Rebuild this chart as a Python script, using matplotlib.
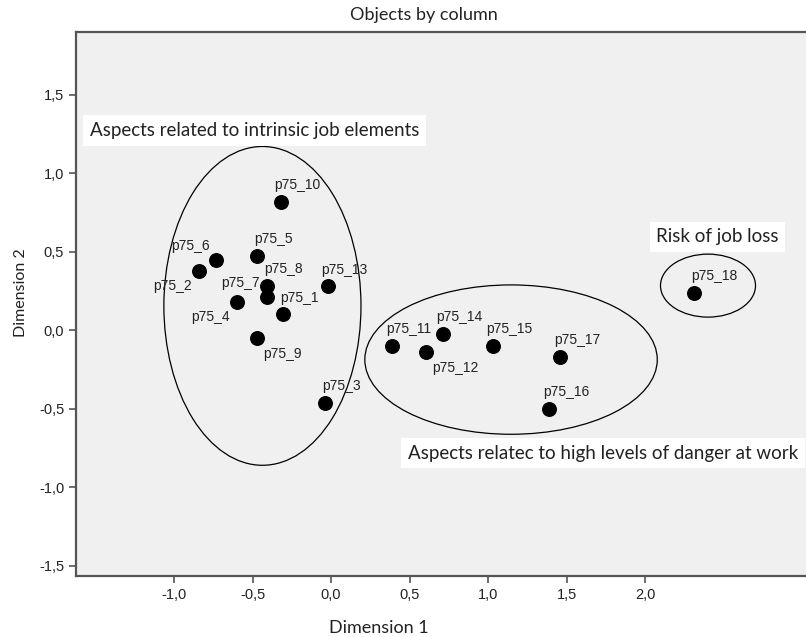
import matplotlib.pyplot as plt
from matplotlib.patches import Ellipse
from matplotlib.ticker import FuncFormatter

# object scores
labels = ['p75_1', 'p75_2', 'p75_3', 'p75_4', 'p75_5', 'p75_6', 'p75_7', 'p75_8', 'p75_9',
          'p75_10', 'p75_11', 'p75_12', 'p75_13', 'p75_14', 'p75_15', 'p75_16', 'p75_17', 'p75_18']
dim1 = [-0.305, -0.84, -0.04, -0.60, -0.47, -0.73, -0.41, -0.41, -0.47,
        -0.32, 0.39, 0.605, -0.02, 0.71, 1.03, 1.39, 1.46, 2.31]
dim2 = [0.103, 0.38, -0.46, 0.18, 0.475, 0.45, 0.215, 0.283, -0.05,
        0.82, -0.10, -0.14, 0.28, -0.024, -0.10, -0.50, -0.17, 0.237]

# groups drawn as ellipses: centre x, centre y, width, height
group_names = ['Aspects related to intrinsic job elements',
               'Aspects relatec to high levels of danger at work',
               'Risk of job loss']
group_cx = [-0.437, 1.146, 2.40]
group_cy = [0.156, -0.186, 0.285]
group_w = [1.255, 1.862, 0.605]
group_h = [2.03, 0.951, 0.401]

ticks = [-1.0, -0.5, 0.0, 0.5, 1.0, 1.5, 2.0]
yticks = [-1.5, -1.0, -0.5, 0.0, 0.5, 1.0, 1.5]

# label offsets in points (most sit up and right of the marker)
default_off = (12, 12)
label_off = {
    'p75_2': (-19, -11), 'p75_4': (-19, -11), 'p75_6': (-19, 10), 'p75_7': (-19, 10),
    'p75_9': (18, -11), 'p75_12': (21, -11), 'p75_18': (15, 12),
}

fig = plt.figure(figsize=(8.06, 6.37), dpi=100)
ax = fig.add_axes([76 / 806, 61 / 637, 730 / 806, 544 / 637])
ax.set_facecolor('#f0f0f0')
fig.patch.set_facecolor('white')

ax.scatter(dim1, dim2, s=95, color='black', zorder=3)
for name, x, y in zip(labels, dim1, dim2):
    dx, dy = label_off.get(name, default_off)
    ax.annotate(name, (x, y), xytext=(dx, dy), textcoords='offset points',
                ha='center', va='center', fontsize=10, family='Liberation Sans', color='#222222')

for cx, cy, w, h in zip(group_cx, group_cy, group_w, group_h):
    ax.add_patch(Ellipse((cx, cy), w, h, fill=False, edgecolor='black', lw=0.9, zorder=2))

box = dict(boxstyle='square,pad=0.35', facecolor='white', edgecolor='none')
ax.text(-1.537, 1.273, group_names[0], ha='left', va='center', fontsize=13.5,
        family='Lato', color='#222222', bbox=box)
ax.text(0.49, -0.782, group_names[1], ha='left', va='center', fontsize=13.5,
        family='Lato', color='#222222', bbox=box)
ax.text(2.46, 0.597, group_names[2], ha='center', va='center', fontsize=13.5,
        family='Lato', color='#222222', bbox=box)

ax.set_xlim(-1.624, 3.024)
ax.set_ylim(-1.564, 1.90)
ax.set_xticks(ticks)
ax.set_yticks(yticks)
comma = FuncFormatter(lambda v, p: '{:.1f}'.format(v).replace('.', ','))
ax.xaxis.set_major_formatter(comma)
ax.yaxis.set_major_formatter(comma)
ax.tick_params(direction='out', length=5, width=1.2, color='#555555', labelsize=10.5,
               labelcolor='#222222')
for lab in ax.get_xticklabels() + ax.get_yticklabels():
    lab.set_family('Liberation Sans')

for side in ['left', 'bottom', 'top']:
    ax.spines[side].set_color('#555555')
    ax.spines[side].set_linewidth(1.6)
ax.spines['right'].set_visible(False)

ax.set_xlabel('Dimension 1', fontsize=13, family='Lato', color='#222222', va='center')
ax.xaxis.set_label_coords(0.415, -0.096)
ax.set_ylabel('Dimension 2', fontsize=11.5, family='Lato', color='#222222', va='center')
ax.yaxis.set_label_coords(-0.075, 0.52)
fig.text(424 / 806, 1 - 15 / 637, 'Objects by column', ha='center', va='center',
         fontsize=13, family='Lato', color='#222222')

plt.savefig('out.png', dpi=100)
